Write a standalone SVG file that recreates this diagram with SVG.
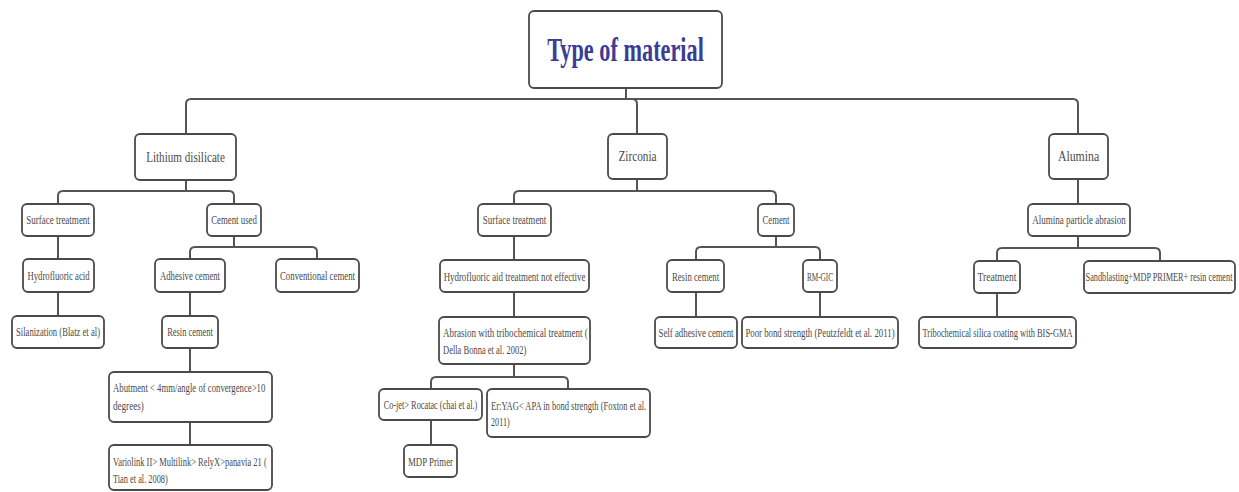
<svg xmlns="http://www.w3.org/2000/svg" width="1239" height="492" viewBox="0 0 1239 492">
<style>
.bx{fill:#fff;stroke:#4a4a4a;stroke-width:1.8}
.ln{fill:none;stroke:#555;stroke-width:2}
text{font-family:"Liberation Serif","DejaVu Serif",serif;fill:#4a4a4a;font-size:12px}
.c{text-anchor:middle}
.l1{font-size:15px}
.t{font-size:34px;fill:#3a3d96;font-weight:bold}
</style>
<rect width="1239" height="492" fill="#fff"/>
<g id="connectors">
<path class="ln" d="M626,88 V99 H191 Q186,99 186,104 V134"/>
<path class="ln" d="M626,88 V99 H632 Q637,99 637,104 V134"/>
<path class="ln" d="M626,88 V99 H1073 Q1078,99 1078,104 V134"/>
<path class="ln" d="M186,180 V191 H63 Q58,191 58,196 V204"/>
<path class="ln" d="M186,180 V191 H229 Q234,191 234,196 V204"/>
<path class="ln" d="M58,236 V259"/>
<path class="ln" d="M58,292 V316"/>
<path class="ln" d="M234,236 V247 H195 Q190,247 190,252 V259"/>
<path class="ln" d="M234,236 V247 H312 Q317,247 317,252 V259"/>
<path class="ln" d="M190,292 V316"/>
<path class="ln" d="M190,348 V372"/>
<path class="ln" d="M190,422 V445"/>
<path class="ln" d="M637,179 V191 H519 Q514,191 514,196 V204"/>
<path class="ln" d="M637,179 V191 H771 Q776,191 776,196 V204"/>
<path class="ln" d="M514,236 V260"/>
<path class="ln" d="M514,292 V317"/>
<path class="ln" d="M514,364 V377 H436 Q431,377 431,382 V389"/>
<path class="ln" d="M514,364 V377 H563 Q568,377 568,382 V389"/>
<path class="ln" d="M431,420 V445"/>
<path class="ln" d="M776,236 V247 H701 Q696,247 696,252 V260"/>
<path class="ln" d="M776,236 V247 H815 Q820,247 820,252 V260"/>
<path class="ln" d="M696,292 V317"/>
<path class="ln" d="M820,292 V317"/>
<path class="ln" d="M1078,179 V204"/>
<path class="ln" d="M1078,236 V248 H1002 Q997,248 997,253 V261"/>
<path class="ln" d="M1078,236 V248 H1155 Q1160,248 1160,253 V261"/>
<path class="ln" d="M997,293 V317"/>
</g>
<g id="root"><rect class="bx" x="529" y="11" width="193" height="77" rx="5"/><text class="t c" transform="translate(625.5,61) scale(.75,1)" textLength="209" lengthAdjust="spacingAndGlyphs">Type of material</text></g>
<g id="lithium"><rect class="bx" x="135" y="134" width="101" height="46" rx="5"/><text class="l1 c" transform="translate(185.5,162) scale(.75,1)" textLength="105" lengthAdjust="spacingAndGlyphs">Lithium disilicate</text></g>
<g id="zirconia"><rect class="bx" x="608" y="134" width="59" height="45" rx="5"/><text class="l1 c" transform="translate(637.5,161) scale(.75,1)" textLength="51" lengthAdjust="spacingAndGlyphs">Zirconia</text></g>
<g id="alumina"><rect class="bx" x="1049" y="134" width="59" height="45" rx="5"/><text class="l1 c" transform="translate(1078.5,161) scale(.75,1)" textLength="55" lengthAdjust="spacingAndGlyphs">Alumina</text></g>
<g id="ld-surface"><rect class="bx" x="22" y="204" width="72" height="32" rx="5"/><text class="c" transform="translate(58,224) scale(.75,1)" textLength="85" lengthAdjust="spacingAndGlyphs">Surface treatment</text></g>
<g id="ld-cement"><rect class="bx" x="207" y="204" width="54" height="32" rx="5"/><text class="c" transform="translate(234,224) scale(.75,1)" textLength="61" lengthAdjust="spacingAndGlyphs">Cement used</text></g>
<g id="ld-hf"><rect class="bx" x="23" y="259" width="71" height="33" rx="5"/><text class="c" transform="translate(58.5,280) scale(.75,1)" textLength="83" lengthAdjust="spacingAndGlyphs">Hydrofluoric acid</text></g>
<g id="ld-silan"><rect class="bx" x="12" y="316" width="92" height="32" rx="5"/><text class="c" transform="translate(58,336) scale(.75,1)" textLength="112" lengthAdjust="spacingAndGlyphs">Silanization (Blatz et al)</text></g>
<g id="ld-adhesive"><rect class="bx" x="155" y="259" width="70" height="33" rx="5"/><text class="c" transform="translate(190,280) scale(.75,1)" textLength="80" lengthAdjust="spacingAndGlyphs">Adhesive cement</text></g>
<g id="ld-conventional"><rect class="bx" x="276" y="259" width="83" height="33" rx="5"/><text class="c" transform="translate(317.5,280) scale(.75,1)" textLength="100" lengthAdjust="spacingAndGlyphs">Conventional cement</text></g>
<g id="ld-resin"><rect class="bx" x="162" y="316" width="56" height="32" rx="5"/><text class="c" transform="translate(190,336) scale(.75,1)" textLength="61" lengthAdjust="spacingAndGlyphs">Resin cement</text></g>
<g id="ld-abutment"><rect class="bx" x="109" y="372" width="163" height="50" rx="5"/><text transform="translate(113,392) scale(.75,1)" textLength="203" lengthAdjust="spacingAndGlyphs">Abutment &lt; 4mm/angle of convergence&gt;10</text><text transform="translate(113,410) scale(.75,1)" textLength="41" lengthAdjust="spacingAndGlyphs">degrees)</text></g>
<g id="ld-variolink"><rect class="bx" x="109" y="445" width="163" height="45" rx="5"/><text transform="translate(113,466) scale(.75,1)" textLength="205" lengthAdjust="spacingAndGlyphs">Variolink II&gt; Multilink&gt; RelyX&gt;panavia 21  (</text><text transform="translate(113,483) scale(.75,1)" textLength="73" lengthAdjust="spacingAndGlyphs">Tian et al. 2008)</text></g>
<g id="z-surface"><rect class="bx" x="478" y="204" width="73" height="32" rx="5"/><text class="c" transform="translate(514.5,224) scale(.75,1)" textLength="85" lengthAdjust="spacingAndGlyphs">Surface treatment</text></g>
<g id="z-hf"><rect class="bx" x="440" y="260" width="149" height="32" rx="5"/><text class="c" transform="translate(514.5,281) scale(.75,1)" textLength="189" lengthAdjust="spacingAndGlyphs">Hydrofluoric aid treatment not effective</text></g>
<g id="z-abrasion"><rect class="bx" x="439" y="317" width="151" height="47" rx="5"/><text transform="translate(443,337) scale(.75,1)" textLength="193" lengthAdjust="spacingAndGlyphs">Abrasion with tribochemical treatment (</text><text transform="translate(443,354) scale(.75,1)" textLength="111" lengthAdjust="spacingAndGlyphs">Della Bonna et al. 2002)</text></g>
<g id="z-cojet"><rect class="bx" x="379" y="389" width="103" height="31" rx="5"/><text class="c" transform="translate(430.5,409) scale(.75,1)" textLength="125" lengthAdjust="spacingAndGlyphs">Co-jet&gt; Rocatac (chai et al.)</text></g>
<g id="z-eryag"><rect class="bx" x="487" y="389" width="163" height="48" rx="5"/><text transform="translate(491,410) scale(.75,1)" textLength="207" lengthAdjust="spacingAndGlyphs">Er:YAG&lt; APA in bond strength (Foxton et al.</text><text transform="translate(491,426) scale(.75,1)" textLength="25" lengthAdjust="spacingAndGlyphs">2011)</text></g>
<g id="z-mdp"><rect class="bx" x="404" y="445" width="53" height="32" rx="5"/><text class="c" transform="translate(430.5,466) scale(.75,1)" textLength="60" lengthAdjust="spacingAndGlyphs">MDP Primer</text></g>
<g id="z-cement"><rect class="bx" x="758" y="204" width="36" height="32" rx="5"/><text class="c" transform="translate(776,224) scale(.75,1)" textLength="36" lengthAdjust="spacingAndGlyphs">Cement</text></g>
<g id="z-resin"><rect class="bx" x="667" y="260" width="57" height="32" rx="5"/><text class="c" transform="translate(695.5,281) scale(.75,1)" textLength="63" lengthAdjust="spacingAndGlyphs">Resin cement</text></g>
<g id="z-rmgic"><rect class="bx" x="803" y="260" width="34" height="32" rx="5"/><text class="c" transform="translate(820,281) scale(.75,1)" textLength="35" lengthAdjust="spacingAndGlyphs">RM-GIC</text></g>
<g id="z-selfadh"><rect class="bx" x="655" y="317" width="82" height="31" rx="5"/><text class="c" transform="translate(696,337) scale(.75,1)" textLength="100" lengthAdjust="spacingAndGlyphs">Self adhesive cement</text></g>
<g id="z-poor"><rect class="bx" x="742" y="317" width="156" height="31" rx="5"/><text class="c" transform="translate(820,337) scale(.75,1)" textLength="199" lengthAdjust="spacingAndGlyphs">Poor bond strength (Peutzfeldt et al. 2011)</text></g>
<g id="a-apa"><rect class="bx" x="1028" y="204" width="102" height="32" rx="5"/><text class="c" transform="translate(1079,224) scale(.75,1)" textLength="125" lengthAdjust="spacingAndGlyphs">Alumina particle abrasion</text></g>
<g id="a-treatment"><rect class="bx" x="974" y="261" width="46" height="32" rx="5"/><text class="c" transform="translate(997,281) scale(.75,1)" textLength="52" lengthAdjust="spacingAndGlyphs">Treatment</text></g>
<g id="a-sandblast"><rect class="bx" x="1084" y="261" width="151" height="32" rx="5"/><text class="c" transform="translate(1159,281) scale(.62,1)" textLength="237" lengthAdjust="spacingAndGlyphs">Sandblasting+MDP PRIMER+ resin cement</text></g>
<g id="a-tribo"><rect class="bx" x="919" y="317" width="157" height="31" rx="5"/><text class="c" transform="translate(997.5,337) scale(.75,1)" textLength="200" lengthAdjust="spacingAndGlyphs">Tribochemical silica coating with BIS-GMA</text></g>
</svg>
